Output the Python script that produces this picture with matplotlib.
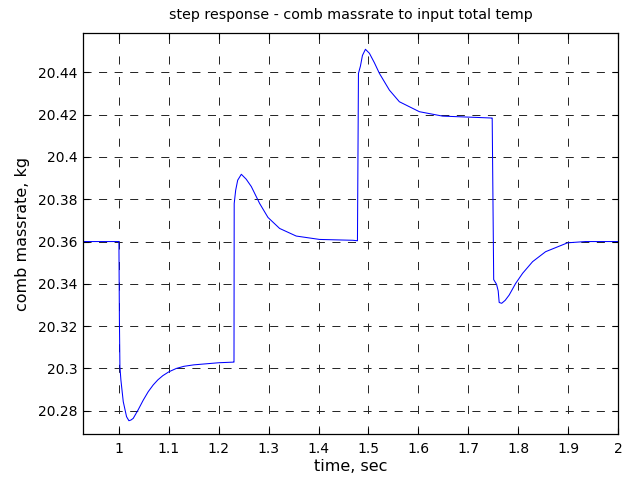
import matplotlib
matplotlib.use("Agg")
import matplotlib.pyplot as plt
import numpy as np

plt.rcParams['font.family'] = ['DejaVu Sans']
plt.rcParams['lines.scale_dashes'] = False

# step response samples (time in sec, massrate in kg)
t_pre = [0.928, 0.999]
m_pre = [20.3600, 20.3600]

t_step1 = [1.000, 1.001, 1.002, 1.004, 1.0087, 1.0153, 1.020, 1.0240, 1.0287, 1.0387,
           1.0487, 1.0587, 1.0687, 1.0780, 1.0880, 1.100, 1.115, 1.130, 1.150, 1.175, 1.200, 1.2300]
m_step1 = [20.3600, 20.3230, 20.3008, 20.2945, 20.2843, 20.2772, 20.2753, 20.2756, 20.2764, 20.2805,
           20.2850, 20.2890, 20.2922, 20.2946, 20.2966, 20.2984, 20.3000, 20.3010, 20.3017, 20.3022,
           20.3027, 20.3030]

t_step2 = [1.2306, 1.2310, 1.2340, 1.2380, 1.2453, 1.2550, 1.2653, 1.2820, 1.2987, 1.3220,
           1.3553, 1.4020, 1.4687, 1.4770]
m_step2 = [20.3030, 20.3780, 20.3843, 20.3890, 20.3918, 20.3895, 20.3860, 20.3780, 20.3714, 20.3662,
           20.3626, 20.3610, 20.3606, 20.3604]

t_step3 = [1.4780, 1.4800, 1.4840, 1.4880, 1.4940, 1.5020, 1.5120, 1.5220, 1.5420, 1.5620,
           1.6020, 1.6487, 1.7153, 1.7473]
m_step3 = [20.3604, 20.4395, 20.4430, 20.4480, 20.4509, 20.4490, 20.4445, 20.4395, 20.4316, 20.4261,
           20.4214, 20.4193, 20.4187, 20.4184]

t_step4 = [1.7480, 1.7510, 1.7567, 1.7600, 1.7620, 1.7670, 1.7740, 1.7820, 1.7950, 1.8090,
           1.8290, 1.8550, 1.8990, 1.9350, 2.0000]
m_step4 = [20.4184, 20.3420, 20.3398, 20.3367, 20.3312, 20.3308, 20.3322, 20.3347, 20.3402, 20.3450,
           20.3505, 20.3552, 20.3594, 20.3600, 20.3600]

time = np.concatenate([t_pre, t_step1, t_step2, t_step3, t_step4])
massrate = np.concatenate([m_pre, m_step1, m_step2, m_step3, m_step4])

xticks = [1, 1.1, 1.2, 1.3, 1.4, 1.5, 1.6, 1.7, 1.8, 1.9, 2]
xticklabels = ['1', '1.1', '1.2', '1.3', '1.4', '1.5', '1.6', '1.7', '1.8', '1.9', '2']
yticks = [20.28, 20.30, 20.32, 20.34, 20.36, 20.38, 20.40, 20.42, 20.44]
yticklabels = ['20.28', '20.3', '20.32', '20.34', '20.36', '20.38', '20.4', '20.42', '20.44']

fig = plt.figure(figsize=(6.23, 4.79), dpi=100)
ax = fig.add_axes([0.1332, 0.0939, 0.8587, 0.8372])

ax.plot(time, massrate, color='#0000ff', lw=0.75)

ax.set_xlim(0.928, 2.0)
ax.set_ylim(20.269, 20.4586)
ax.set_xticks(xticks)
ax.set_xticklabels(xticklabels)
ax.set_yticks(yticks)
ax.set_yticklabels(yticklabels)

# dashed grid, vertical lines have sparser dashes
ax.yaxis.grid(True, color='#222222', linestyle=(0, (5.8, 5.4)), linewidth=0.7)
ax.xaxis.grid(True, color='#222222', linestyle=(0, (5.8, 9.0)), linewidth=0.7)
ax.tick_params(direction='in', length=4, width=0.8, top=True, right=True,
               labelsize=10, colors='black')
ax.tick_params(axis='x', pad=6)
ax.tick_params(axis='y', pad=4)
for sp in ax.spines.values():
    sp.set_linewidth(0.9)

ax.set_title('step response - comb massrate to input total temp', fontsize=10.3, pad=10)
ax.set_xlabel('time, sec', fontsize=11.5, labelpad=2)
ax.set_ylabel('comb massrate, kg', fontsize=11.5, labelpad=6)

fig.savefig('out.png', dpi=100)
plt.close(fig)
